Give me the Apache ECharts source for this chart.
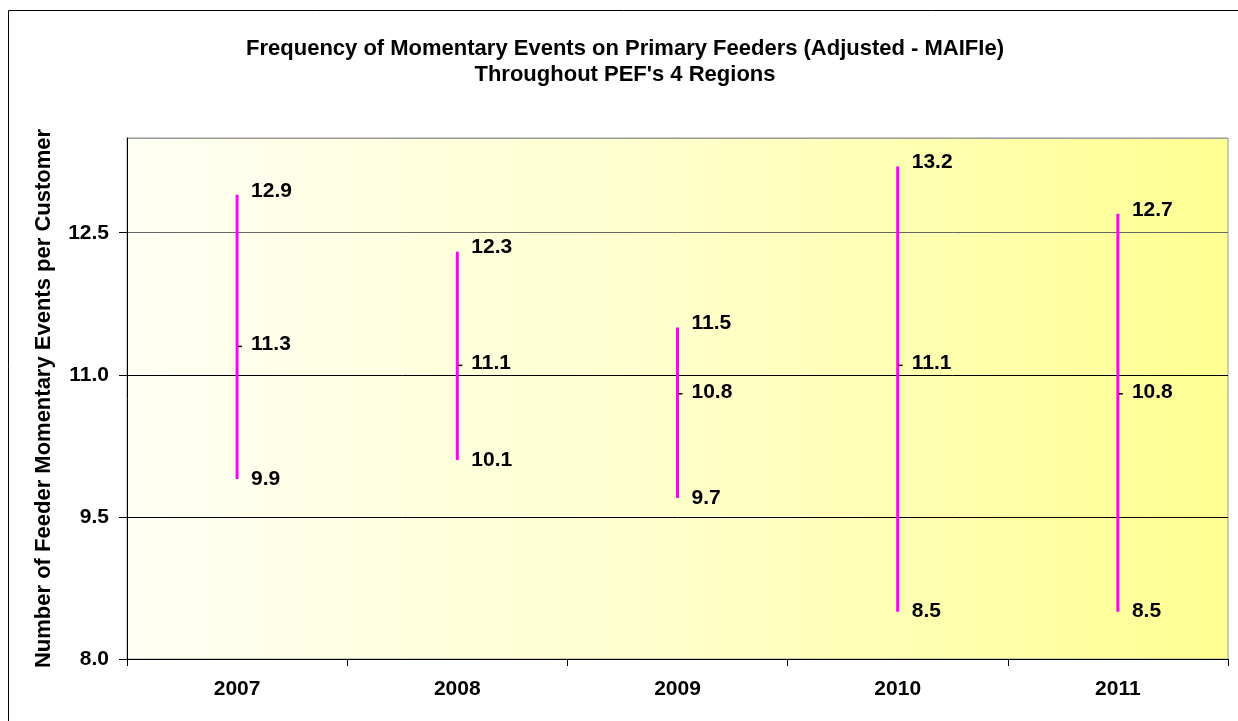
<!DOCTYPE html>
<html>
<head>
<meta charset="utf-8">
<script src="https://cdn.jsdelivr.net/npm/echarts@6/dist/echarts.min.js"></script>
<style>
  html, body { margin: 0; padding: 0; background: #fff; }
  #chart { width: 1238px; height: 721px; }
</style>
</head>
<body>
<div id="chart"></div>
<script>
var years = ['2007', '2008', '2009', '2010', '2011']
var highVals = [12.9, 12.3, 11.5, 13.2, 12.7]
var midVals = [11.3, 11.1, 10.8, 11.1, 10.8]
var lowVals = [9.9, 10.1, 9.7, 8.5, 8.5]

var font = 'Liberation Sans, Arial, sans-serif'

var seriesData = []
for (var i = 0; i < years.length; i++) {
  seriesData.push([i, lowVals[i], midVals[i], highVals[i]])
}

function renderHiLo (params, api) {
  var x = api.value(0)
  var low = api.coord([x, api.value(1)])
  var mid = api.coord([x, api.value(2)])
  var high = api.coord([x, api.value(3)])
  var label = function (t, px, py) {
    return {
      type: 'text',
      style: {
        text: t, x: px, y: py,
        font: 'bold 21px ' + font,
        fill: '#000',
        verticalAlign: 'middle'
      }
    }
  }
  return {
    type: 'group',
    children: [
      {
        type: 'line',
        shape: { x1: high[0], y1: high[1], x2: low[0], y2: low[1] },
        style: { stroke: '#FF00FF', lineWidth: 3 }
      },
      {
        type: 'line',
        shape: { x1: mid[0] + 1, y1: mid[1], x2: mid[0] + 5, y2: mid[1] },
        style: { stroke: '#000', lineWidth: 1.5 }
      },
      label(api.value(3).toFixed(1), high[0] + 14, high[1] - 4),
      label(api.value(2).toFixed(1), mid[0] + 14, mid[1] - 2),
      label(api.value(1).toFixed(1), low[0] + 14, low[1])
    ]
  }
}

var myChart = echarts.init(document.getElementById('chart'))
var option = {
  animation: false,
  title: {
    text: 'Frequency of Momentary Events on Primary Feeders (Adjusted - MAIFIe)\nThroughout PEF\'s 4 Regions',
    left: 620,
    textAlign: 'center',
    top: 31,
    textStyle: { fontFamily: font, fontWeight: 'bold', fontSize: 22, lineHeight: 26, color: '#000' }
  },
  graphic: [
    {
      type: 'rect',
      shape: { x: 8.5, y: 10.5, width: 1250, height: 730 },
      style: { fill: null, stroke: '#000', lineWidth: 1 },
      silent: true
    }
  ],
  grid: {
    left: 127,
    right: 10,
    top: 138,
    bottom: 62,
    show: true,
    borderColor: '#999',
    borderWidth: 1,
    backgroundColor: {
      type: 'linear', x: 0, y: 0, x2: 1, y2: 0,
      colorStops: [
        { offset: 0, color: '#FFFFF4' },
        { offset: 0.45, color: '#FFFFD0' },
        { offset: 1, color: '#FFFF92' }
      ]
    }
  },
  xAxis: {
    type: 'category',
    data: years,
    axisLine: { lineStyle: { color: '#000', width: 1 } },
    axisTick: { show: true, length: 7, lineStyle: { color: '#000' } },
    axisLabel: { fontFamily: font, fontWeight: 'bold', fontSize: 21, color: '#000', margin: 20 },
    splitLine: { show: false }
  },
  yAxis: {
    type: 'value',
    min: 8,
    max: 13.5,
    interval: 1.5,
    name: 'Number of Feeder Momentary Events per Customer',
    nameLocation: 'middle',
    nameGap: 72,
    nameTextStyle: { fontFamily: font, fontWeight: 'bold', fontSize: 22, color: '#000' },
    axisLine: { show: true, lineStyle: { color: '#000', width: 1 } },
    axisTick: { show: true, length: 8, lineStyle: { color: '#000' } },
    axisLabel: {
      fontFamily: font, fontWeight: 'bold', fontSize: 21, color: '#000', margin: 18,
      showMaxLabel: false,
      formatter: function (v) { return v.toFixed(1) }
    },
    splitLine: { show: true, lineStyle: { color: ['#000', '#000', '#000', '#666', '#999'], width: 1 } }
  },
  series: [
    {
      type: 'custom',
      renderItem: renderHiLo,
      encode: { x: 0, y: [1, 2, 3] },
      data: seriesData,
      z: 10
    }
  ]
}
myChart.setOption(option)
</script>
</body>
</html>
